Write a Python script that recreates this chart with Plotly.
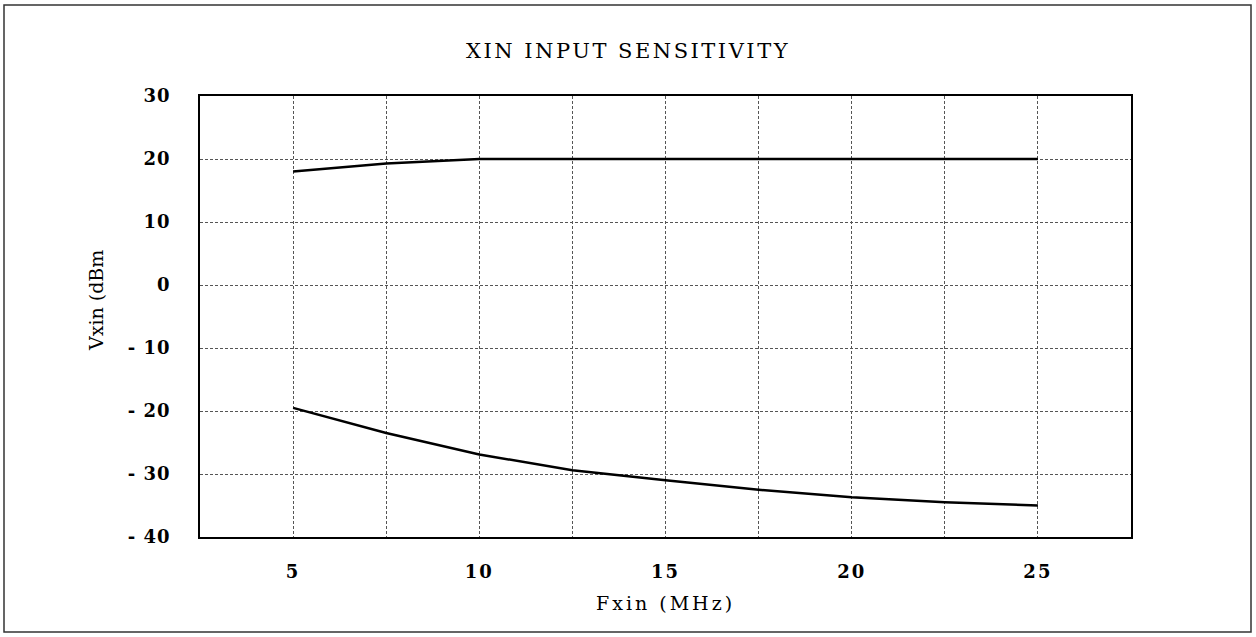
import plotly.graph_objects as go

freq = [5, 7.5, 10, 12.5, 15, 17.5, 20, 22.5, 25]
upper = [18.0, 19.3, 20.0, 20.0, 20.0, 20.0, 20.0, 20.0, 20.0]
lower = [-19.5, -23.5, -26.9, -29.4, -31.0, -32.5, -33.7, -34.5, -35.0]

x_grid = [2.5, 5, 7.5, 10, 12.5, 15, 17.5, 20, 22.5, 25, 27.5]
x_labels = ["", "5", "", "10", "", "15", "", "20", "", "25", ""]
y_vals = [-40, -30, -20, -10, 0, 10, 20, 30]
y_labels = ["- 40", "- 30", "- 20", "- 10", "0", "10", "20", "30"]

FONT = "DejaVu Serif"
PW, PH = 931, 441  # plot area in px (200..1131, 96..537)

fig = go.Figure()
for ys in (upper, lower):
    fig.add_trace(go.Scatter(x=freq, y=ys, mode="lines",
                             line=dict(color="black", width=2.5),
                             showlegend=False, hoverinfo="skip"))

fig.update_layout(
    width=1256, height=637,
    margin=dict(l=200, r=125, t=96, b=100),
    paper_bgcolor="white", plot_bgcolor="white",
    title=dict(text="XIN INPUT SENSITIVITY", x=0.5, xanchor="center",
               y=1 - 51/637, yanchor="middle",
               font=dict(family=FONT, size=21, color="black")),
    font=dict(family=FONT, color="black"),
)
fig.update_xaxes(
    range=[2.5, 27.5], tickmode="array", tickvals=x_grid, ticktext=x_labels,
    showgrid=True, gridcolor="#555555", griddash="3px,2px", gridwidth=1,
    showline=True, linecolor="black", linewidth=1.5, mirror=True,
    zeroline=False, ticks="", ticklabelstandoff=18,
    tickfont=dict(family=FONT, size=18, color="black", weight="bold"),
)
fig.update_yaxes(
    range=[-40, 30], tickmode="array", tickvals=y_vals, ticktext=y_labels,
    showgrid=True, gridcolor="#555555", griddash="3px,2px", gridwidth=1,
    showline=True, linecolor="black", linewidth=1.5, mirror=True,
    zeroline=False, ticks="", ticklabelstandoff=24,
    tickfont=dict(family=FONT, size=18, color="black", weight="bold"),
)

fig.add_annotation(text="Fxin (MHz)", xref="paper", yref="paper",
                   x=0.5, y=(537-603)/PH, xanchor="center", yanchor="middle",
                   showarrow=False,
                   font=dict(family=FONT, size=19, color="black"))
fig.add_annotation(text="Vxin (dBm", xref="paper", yref="paper",
                   x=(96-200)/PW, y=(537-301)/PH, xanchor="center", yanchor="middle",
                   textangle=-90, showarrow=False,
                   font=dict(family=FONT, size=19, color="black"))

# outer border around the whole figure
fig.add_shape(type="rect", xref="paper", yref="paper",
              x0=(4-200)/PW, x1=(1251-200)/PW,
              y0=(537-632)/PH, y1=(537-5)/PH,
              line=dict(color="#333333", width=1.5), fillcolor="rgba(0,0,0,0)",
              layer="below")

post = """
document.body.style.margin='0';
var gd = document.getElementsByClassName('plotly-graph-div')[0];
gd.querySelectorAll('.gtitle').forEach(function(e){e.style.letterSpacing='2.5px';});
gd.querySelectorAll('.annotation-text').forEach(function(e){
  if (e.textContent.indexOf('Fxin')===0) { e.style.letterSpacing='3px'; }
});
gd.querySelectorAll('.xtick text').forEach(function(e){e.style.letterSpacing='2px';});
gd.querySelectorAll('.ytick text').forEach(function(e){e.style.letterSpacing='1px';});
"""

fig.write_html("out.html", post_script=post, config={"displayModeBar": False})
